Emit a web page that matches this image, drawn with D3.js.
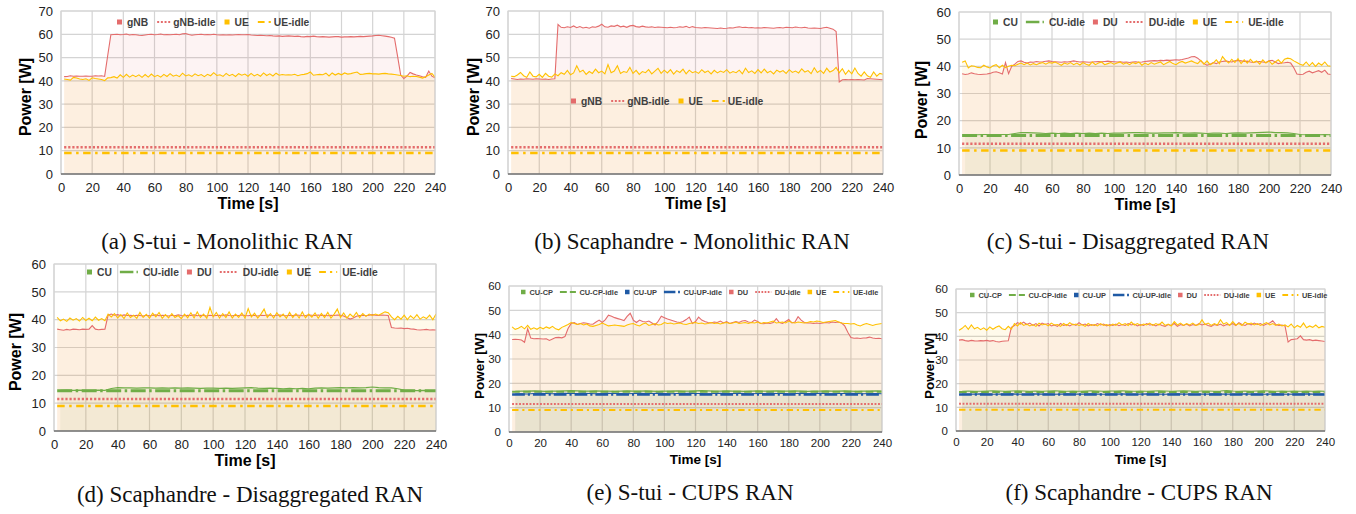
<!DOCTYPE html>
<html>
<head>
<meta charset="utf-8">
<script src="https://cdn.jsdelivr.net/npm/d3@7"></script>
<style>
  body { margin: 0; background: #fff; }
  svg { display: block; }
</style>
</head>
<body>
<svg id="fig" width="1356" height="514"></svg>
<script>
// ---- data (W, sampled every `step` seconds, last sample at 240 s) ----
const xTicks = [0, 20, 40, 60, 80, 100, 120, 140, 160, 180, 200, 220, 240];

// (a) S-tui - Monolithic
const gnbA = [
  41.8,41.9,42.2,42.0,42.1,42.0,42.0,42.1,42.0,42.0,
  42.2,42.1,42.2,41.9,51.0,59.8,59.9,60.0,59.8,59.9,
  60.1,59.7,59.9,59.8,59.6,59.5,59.7,59.9,60.0,59.8,
  59.9,60.1,59.8,59.9,59.8,59.9,60.0,59.8,60.2,60.3,
  59.9,59.6,59.8,59.9,60.0,59.8,59.9,59.8,60.0,59.8,
  59.7,59.8,59.7,59.8,59.7,59.8,59.9,59.8,59.8,59.9,
  59.7,59.6,59.5,59.6,59.5,59.4,59.5,59.3,59.2,59.3,
  59.1,59.2,59.3,59.2,59.1,59.2,59.0,58.9,59.1,59.0,
  59.2,59.0,58.9,59.0,58.9,58.8,58.9,59.0,59.0,58.8,
  58.9,58.9,59.0,58.9,59.0,59.1,59.0,59.1,59.2,59.3,
  59.5,59.6,59.4,59.2,59.0,58.7,58.3,50.5,42.5,41.0,
  42.0,43.6,43.0,42.5,42.2,41.8,41.5,44.2,42.0,41.3];
const ueA = [
  40.8,40.6,40.3,41.5,41.2,40.8,40.6,40.9,40.2,41.3,
  41.0,40.8,40.6,40.1,41.3,41.4,41.8,41.2,42.6,41.5,
  42.8,41.6,42.5,41.8,42.6,41.5,42.7,41.6,42.9,41.8,
  42.4,41.6,42.8,41.9,43.1,42.0,42.5,41.8,43.3,42.1,
  42.6,41.9,43.0,42.2,42.7,41.8,42.8,42.2,43.5,42.3,
  42.6,41.9,43.2,42.2,42.8,41.9,43.1,42.4,42.9,42.0,
  43.2,42.1,42.8,42.0,43.4,42.3,43.0,42.1,43.3,42.4,
  42.7,42.5,42.6,42.5,42.8,42.2,42.6,42.8,43.1,43.8,
  42.4,42.6,42.8,42.6,43.3,42.1,43.4,42.5,43.2,42.6,
  43.4,42.9,43.1,43.5,43.8,42.8,42.9,43.1,43.2,43.0,
  43.0,42.9,43.1,43.2,43.0,42.9,42.7,42.5,42.3,42.0,
  42.2,41.8,42.0,41.9,41.6,41.2,41.8,42.5,43.2,41.6];

// (b) Scaphandre - Monolithic
const gnbB = [
  41.0,40.8,40.6,40.8,40.7,40.9,40.8,40.7,40.9,40.8,
  40.7,40.8,40.6,40.8,40.9,64.2,63.0,62.8,63.2,62.9,
  63.6,62.8,63.3,62.7,63.0,62.6,63.2,63.0,63.5,64.3,
  63.2,63.0,63.6,63.4,63.9,63.2,63.5,63.0,63.6,63.8,
  63.3,63.1,63.5,63.2,63.0,63.2,62.9,63.1,63.0,62.9,
  62.8,63.0,62.8,62.9,63.2,63.0,63.4,62.8,63.3,62.9,
  62.8,62.7,62.9,62.8,62.7,62.6,62.5,62.7,62.5,62.6,
  62.8,62.7,63.0,63.2,62.9,63.0,62.8,62.9,62.7,62.8,
  62.7,62.9,62.8,62.7,62.6,62.8,62.9,62.7,63.0,62.9,
  62.8,63.1,62.9,62.8,63.0,62.7,62.6,62.7,62.6,62.5,
  62.8,63.0,62.6,62.2,61.2,39.5,40.5,40.6,40.5,40.6,
  40.5,40.6,40.5,40.4,41.0,40.9,40.8,40.7,40.6,40.5];
const ueB = [
  42.0,41.8,42.5,43.6,42.2,41.5,43.8,42.0,41.7,42.8,
  41.5,43.2,42.0,41.6,43.0,42.2,43.5,42.8,44.5,42.6,
  43.4,46.5,43.8,44.6,42.8,44.0,43.2,45.0,43.5,44.2,
  43.0,47.0,43.5,44.2,46.5,43.2,44.0,43.6,45.8,43.2,
  44.5,42.8,44.0,43.5,44.8,43.0,44.2,45.4,43.2,44.6,
  43.4,44.8,42.9,44.4,43.6,45.0,43.0,44.6,43.5,44.0,
  43.2,44.8,43.6,44.3,43.0,44.5,43.4,44.2,43.6,44.8,
  43.3,44.0,43.5,44.6,43.0,45.4,43.6,44.3,43.2,44.8,
  43.4,45.0,43.5,44.2,43.0,44.6,43.8,44.4,43.2,44.8,
  43.6,44.2,43.4,45.2,43.8,44.4,43.1,45.6,43.6,44.5,
  43.2,45.4,43.8,44.4,45.8,43.5,45.2,42.8,44.5,43.0,
  45.5,43.2,42.0,43.8,42.2,41.5,43.8,42.0,43.2,42.8];

// (c) S-tui - Disaggregated
const cuC = [
  14.9,14.9,14.8,14.9,14.9,14.8,14.9,14.9,15.3,15.6,
  15.6,15.5,15.4,15.3,15.4,15.3,15.4,15.3,15.4,15.3,
  15.4,15.3,15.4,15.3,15.4,15.4,15.5,15.6,15.6,15.5,
  15.4,15.4,15.5,15.5,15.6,15.5,15.4,15.5,15.4,15.3,
  15.4,15.4,15.3,15.4,15.5,15.4,15.5,15.6,15.7,15.8,
  15.6,15.6,15.5,15.3,14.9,14.8,14.9,14.8,14.9,14.8];
const duC = [
  37.3,37.0,37.2,37.6,37.3,37.1,37.0,37.1,37.2,37.4,
  37.8,38.0,37.6,37.2,41.4,37.3,40.0,40.8,41.8,42.0,
  41.5,41.2,41.6,41.5,41.8,41.6,41.7,41.9,42.0,41.8,
  41.7,41.6,41.5,41.7,41.6,41.8,42.0,41.8,41.6,41.7,
  41.6,41.5,41.6,41.7,41.8,41.7,41.8,41.9,41.8,41.7,
  41.6,41.7,41.5,41.6,41.4,41.6,41.7,41.5,41.6,41.8,
  41.9,42.0,42.1,42.0,42.2,42.1,42.3,42.2,42.3,42.4,
  42.3,42.5,42.8,43.1,43.5,43.6,43.0,42.0,41.0,40.4,
  40.8,41.4,41.0,41.6,41.8,42.0,41.8,41.6,42.0,42.2,
  42.0,41.8,41.9,41.6,41.4,41.7,41.8,41.6,41.4,42.0,
  42.2,41.6,41.0,41.2,41.3,41.5,41.2,39.5,37.2,37.0,
  37.1,37.8,38.2,37.6,38.0,38.4,37.8,38.6,37.2,37.0];
const ueC = [
  41.5,42.0,39.4,40.2,40.0,39.6,39.5,40.4,39.8,39.4,
  40.2,40.6,39.5,40.4,39.5,40.0,40.4,40.2,40.8,41.2,
  40.6,41.2,40.5,41.0,40.6,41.1,41.4,40.8,41.4,41.2,
  41.6,41.0,40.4,41.2,40.8,41.4,40.6,41.2,40.5,41.4,
  40.8,40.4,41.6,40.6,41.2,41.6,40.6,41.0,41.4,40.8,
  41.2,41.6,40.8,41.3,40.6,41.4,41.0,41.6,40.4,41.2,
  40.6,41.4,40.8,41.2,41.6,40.6,41.2,41.8,41.0,40.6,
  41.4,41.8,41.2,41.6,42.0,41.4,41.0,42.2,40.8,42.0,
  40.6,41.2,42.4,41.0,43.6,42.2,41.2,42.6,41.4,42.8,
  41.0,42.4,41.2,42.6,41.4,42.0,40.8,42.4,41.2,42.0,
  40.8,41.6,42.4,41.2,42.6,43.0,42.8,42.0,41.4,40.8,
  40.4,41.6,40.2,41.4,40.0,41.2,40.4,41.6,40.2,40.0];

// (d) Scaphandre - Disaggregated
const cuD = [
  14.6,14.7,14.6,14.7,14.6,14.6,14.7,14.6,15.3,15.6,
  15.5,15.5,15.4,15.5,15.5,15.4,15.5,15.4,15.5,15.4,
  15.5,15.4,15.3,15.4,15.4,15.3,15.4,15.3,15.4,15.5,
  15.6,15.4,15.3,15.4,15.3,15.2,15.3,15.2,15.3,15.2,
  15.4,15.5,15.4,15.5,15.6,15.5,15.6,15.5,15.6,15.8,
  15.6,15.5,15.5,15.2,14.7,14.6,14.5,14.6,14.5,14.5];
const duD = [
  36.6,36.4,36.2,36.5,36.3,36.6,36.5,36.4,36.6,36.5,
  36.6,37.9,36.6,36.4,36.5,36.6,41.6,42.0,41.6,41.8,
  41.4,41.7,41.5,41.6,41.4,41.6,41.5,41.3,41.6,41.4,
  41.5,41.7,41.4,41.6,41.5,41.3,41.6,41.4,41.7,41.5,
  41.4,41.6,41.5,41.7,41.4,41.6,41.5,41.3,41.6,41.4,
  41.5,41.6,41.4,41.7,41.5,41.4,41.6,41.5,41.7,41.5,
  41.4,41.6,41.5,41.3,41.6,41.5,41.7,41.5,41.4,41.6,
  41.7,41.5,41.4,41.6,41.5,41.7,41.6,41.4,41.5,41.7,
  41.6,41.5,41.7,41.5,41.6,41.4,41.6,41.5,41.7,41.6,
  41.3,40.8,40.2,40.6,41.2,41.5,41.6,41.4,41.6,41.8,
  41.6,41.5,41.7,41.6,41.5,37.2,37.0,36.9,37.0,36.8,
  36.9,36.7,36.6,36.4,36.3,36.4,36.5,36.3,36.4,36.3];
const ueD = [
  40.8,39.6,40.2,39.4,40.6,39.8,40.4,39.5,40.8,39.7,
  40.5,39.6,40.9,39.8,40.4,39.6,42.0,41.0,42.2,40.6,
  41.8,40.4,42.4,40.8,41.6,40.5,42.6,40.8,41.9,40.6,
  42.3,41.0,42.6,40.5,41.8,40.6,42.2,40.8,41.5,40.4,
  42.0,40.7,42.5,40.6,42.8,40.8,42.0,40.5,44.4,41.0,
  42.6,40.6,42.2,40.8,42.8,40.6,42.0,40.8,42.4,40.6,
  44.0,41.0,42.3,40.6,42.0,43.8,40.8,42.2,40.6,42.5,
  41.0,42.0,40.5,42.6,40.8,42.2,40.6,42.8,40.7,42.0,
  40.9,42.4,40.5,42.2,40.8,42.6,40.6,42.0,43.8,40.8,
  42.4,40.6,42.0,41.0,42.6,40.8,42.2,41.2,42.0,41.5,
  42.0,41.6,42.2,42.8,42.5,41.0,40.0,41.2,40.2,41.6,
  40.0,41.4,40.4,41.8,40.2,41.0,40.4,41.6,40.0,42.0];

// (e) S-tui - CUPS
const cuCpE = [
  16.7,16.8,16.8,16.9,16.8,16.7,16.8,16.8,16.9,17.0,
  16.9,16.8,16.8,16.9,16.8,16.8,16.7,16.8,16.9,16.8,
  16.8,16.9,16.8,16.7,16.8,16.8,16.9,16.8,16.8,16.9,
  17.0,16.9,16.8,16.8,16.9,16.8,16.8,16.7,16.8,16.9,
  16.8,16.8,16.9,16.8,16.8,16.9,16.8,16.7,16.8,16.8,
  16.9,16.8,16.8,16.9,16.8,16.7,16.8,16.8,16.9,16.8];
const cuUpE = [
  15.6,15.7,15.6,15.8,15.9,15.8,15.7,15.8,15.9,15.8,
  15.8,15.9,15.8,15.7,15.8,15.9,15.8,15.8,15.7,15.8,
  15.9,15.8,15.8,15.9,15.8,15.7,15.8,15.8,15.9,15.8,
  15.8,15.7,15.8,15.9,15.8,15.8,15.9,15.8,15.7,15.8,
  15.8,15.9,15.8,15.8,15.7,15.8,15.9,15.8,15.8,15.9,
  15.8,15.7,15.8,15.8,15.9,15.8,15.7,15.8,15.8,15.7];
const duE = [
  38.0,38.1,38.0,37.8,36.9,42.4,38.6,38.3,38.4,38.3,
  38.2,38.3,37.6,38.2,38.8,38.9,38.7,39.2,42.5,44.6,
  45.0,44.2,44.6,44.9,44.7,44.4,44.3,45.2,46.0,45.0,
  46.2,48.0,47.6,47.0,46.6,46.2,45.8,47.5,48.8,46.0,
  45.0,46.0,45.4,45.2,45.6,44.8,44.0,45.5,47.6,47.0,
  46.4,46.0,45.6,45.2,45.0,45.4,46.2,47.2,44.6,45.4,
  47.2,46.0,45.4,45.0,44.8,45.2,45.0,45.6,44.8,45.4,
  44.6,45.0,45.4,45.0,45.6,45.8,45.2,45.0,46.0,45.4,
  44.6,44.5,44.8,44.6,45.0,46.6,45.0,44.6,45.4,46.2,
  44.8,45.2,47.4,46.0,45.0,44.8,44.8,44.6,44.8,44.6,
  44.8,45.0,44.8,45.2,45.0,45.2,44.8,43.6,41.0,38.8,
  38.5,38.6,38.4,38.6,38.7,39.0,38.6,38.4,38.5,38.3];
const ueE = [
  43.2,42.2,42.6,43.4,42.4,43.8,42.2,42.8,42.2,43.0,
  42.4,43.2,42.6,43.4,42.4,42.0,43.0,43.6,44.2,45.0,
  44.6,44.2,44.6,44.0,44.4,43.6,43.4,43.8,44.2,44.8,
  44.2,43.6,43.8,44.0,43.8,43.6,43.4,44.0,44.4,44.6,
  44.0,43.6,44.4,44.8,43.8,44.2,44.6,44.0,44.2,45.0,
  44.6,44.8,44.4,44.6,44.8,44.4,44.2,44.6,44.8,45.0,
  44.6,44.8,44.4,44.6,45.0,44.6,44.8,44.4,44.8,45.0,
  44.6,44.8,45.2,44.6,44.8,45.0,44.6,45.0,44.8,45.2,
  44.6,45.0,44.8,45.2,45.6,44.8,45.0,45.2,44.8,45.6,
  45.0,44.8,45.2,45.0,44.8,45.0,45.4,45.2,45.6,45.4,
  45.0,45.2,45.4,45.6,45.8,45.2,44.8,44.6,44.6,44.4,
  44.6,44.0,43.6,44.2,44.6,44.2,43.8,44.2,44.4,44.6];

// (f) Scaphandre - CUPS
const cuCpF = [
  16.8,16.9,16.8,16.8,16.9,17.0,16.9,16.8,16.9,17.0,
  16.9,16.8,16.9,16.8,16.9,17.0,16.9,16.8,16.9,16.8,
  16.9,17.0,16.9,16.8,16.9,16.9,17.0,16.9,16.8,16.9,
  16.8,16.9,17.0,16.9,16.8,16.9,17.0,16.9,16.8,16.9,
  16.9,16.8,16.9,17.1,16.9,16.8,16.9,16.8,16.9,17.0,
  16.9,16.8,16.9,16.8,16.9,16.8,16.9,16.8,16.9,16.8];
const cuUpF = [
  15.6,15.5,15.6,15.7,15.6,15.5,15.6,15.6,15.7,15.6,
  15.5,15.6,15.7,15.6,15.6,15.5,15.6,15.7,15.6,15.6,
  15.6,15.7,15.6,15.5,15.6,15.6,15.7,15.6,15.5,15.6,
  15.7,15.6,15.6,15.5,15.6,15.7,15.6,15.6,15.5,15.6,
  15.6,15.7,15.6,15.6,15.5,15.6,15.7,15.6,15.6,15.5,
  15.6,15.7,15.6,15.5,15.6,15.6,15.7,15.6,15.6,15.5];
const duF = [
  38.4,38.6,38.2,38.0,38.3,38.1,38.0,38.2,38.1,38.3,
  38.0,38.2,37.8,37.6,37.9,38.0,38.1,43.8,44.6,45.8,
  45.2,46.0,45.0,45.6,44.6,45.4,44.4,45.6,45.0,45.4,
  44.4,44.8,44.2,45.4,44.6,45.0,44.4,45.2,44.6,45.8,
  44.8,45.2,44.4,45.0,44.6,45.4,44.8,45.2,44.4,45.0,
  44.6,45.2,44.5,45.0,44.6,45.4,44.8,45.2,44.4,45.0,
  44.6,45.4,44.8,45.0,44.4,45.2,44.6,44.2,45.0,44.6,
  45.4,44.2,45.0,44.6,45.2,44.4,45.0,44.6,45.4,44.8,
  45.2,44.6,44.2,45.0,44.6,45.2,44.4,45.0,44.8,45.4,
  44.6,45.8,45.0,44.6,45.4,44.8,45.6,45.0,45.4,44.6,
  45.2,45.6,46.6,45.0,44.6,44.8,44.4,37.6,38.6,38.8,
  39.0,40.2,38.6,38.4,38.6,38.2,38.4,38.2,38.0,37.8];
const ueF = [
  42.6,43.4,44.6,43.0,44.8,43.2,43.8,42.8,43.6,42.6,
  44.0,43.0,43.8,44.4,43.2,42.8,44.2,43.0,45.4,44.4,
  45.8,44.6,45.2,44.4,45.0,44.2,45.6,44.8,45.2,44.4,
  45.6,44.8,45.0,44.2,45.4,44.6,45.8,44.8,45.2,44.6,
  45.0,44.2,45.4,44.6,45.0,44.4,45.4,44.6,45.0,44.4,
  45.2,44.6,45.8,44.8,45.4,44.6,46.0,44.8,45.4,44.6,
  45.2,44.8,45.6,44.6,45.4,44.8,46.0,44.6,45.2,44.4,
  46.2,44.8,45.6,44.6,45.4,44.8,45.6,44.6,45.0,47.0,
  45.0,45.6,44.6,45.4,44.8,47.0,45.2,45.8,44.6,46.2,
  44.8,45.4,44.6,46.0,45.2,45.6,44.8,45.4,44.6,45.2,
  45.8,44.8,45.4,44.6,45.2,44.4,44.8,44.0,45.2,43.6,
  44.6,43.8,45.6,43.6,44.4,43.8,44.8,43.6,44.2,43.8];

// idle reference levels (W)
const idleGnb = 11.5, idleDu = 11.5, idleUe = 9.0, idleCu = 14.5, idleCuCp = 16.5, idleCuUp = 15.4;

// ---- styles ----
const RED = '#e46c6c', YEL = '#ffc000', GRN = '#70ad47', BLU = '#1f5aa5';
const DASH = {
  dot: { d: '2.2,1.9', w: 2.4 },
  dashdot: { d: '7.5,4.5,2.5,4.5', w: 2.4 },
  longdashdot: { d: '15,3.5,2.5,3.5', w: 3 },
  dash: { d: '9,4', w: 2.4 }
};

const area = (label, values, step, color) => ({ type: 'area', label, values, step, color });
const idle = (label, value, color, dash) => ({ type: 'idle', label, value, color, dash });

const panels = [
  { caption: '(a) S-tui - Monolithic RAN', left: 61, top: 11, right: 435, bottom: 174, yMax: 70,
    tickFont: 13, tickPad: 9, titleFont: 16, yTitleX: 25, yTitleY: 97, xTitleY: 203,
    capX: 227, capY: 241, lw: 1,
    legend: { x: 117, y: 22, font: 10.3, sq: 5, sqGap: 5, len: 13, lineGap: 3, gap: 9 },
    items: [area('gNB', gnbA, 2, RED), idle('gNB-idle', idleGnb, RED, 'dot'),
            area('UE', ueA, 2, YEL), idle('UE-idle', idleUe, YEL, 'dashdot')] },
  { caption: '(b) Scaphandre - Monolithic RAN', left: 508, top: 11, right: 883, bottom: 174, yMax: 70,
    tickFont: 13, tickPad: 9, titleFont: 16, yTitleX: 473, yTitleY: 97, xTitleY: 203,
    capX: 692, capY: 241, lw: 1,
    legend: { x: 571, y: 101, font: 10.3, sq: 5, sqGap: 5, len: 13, lineGap: 3, gap: 9 },
    items: [area('gNB', gnbB, 2, RED), idle('gNB-idle', idleGnb, RED, 'dot'),
            area('UE', ueB, 2, YEL), idle('UE-idle', idleUe, YEL, 'dashdot')] },
  { caption: '(c) S-tui - Disaggregated RAN', left: 959, top: 12, right: 1331, bottom: 175, yMax: 60,
    tickFont: 13, tickPad: 9, titleFont: 16, yTitleX: 921, yTitleY: 100, xTitleY: 204,
    capX: 1128, capY: 241, lw: 1,
    legend: { x: 993, y: 22, font: 10.3, sq: 5, sqGap: 5, len: 18, lineGap: 5, gap: 8 },
    items: [area('CU', cuC, 4, GRN), idle('CU-idle', idleCu, GRN, 'longdashdot'),
            area('DU', duC, 2, RED), idle('DU-idle', idleDu, RED, 'dot'),
            area('UE', ueC, 2, YEL), idle('UE-idle', idleUe, YEL, 'dashdot')] },
  { caption: '(d) Scaphandre - Disaggregated RAN', left: 54, top: 264, right: 436, bottom: 431, yMax: 60,
    tickFont: 13, tickPad: 9, titleFont: 16, yTitleX: 15, yTitleY: 352, xTitleY: 460,
    capX: 250, capY: 494, lw: 1,
    legend: { x: 87, y: 272, font: 10.3, sq: 5, sqGap: 5, len: 18, lineGap: 5, gap: 8 },
    items: [area('CU', cuD, 4, GRN), idle('CU-idle', idleCu, GRN, 'longdashdot'),
            area('DU', duD, 2, RED), idle('DU-idle', idleDu, RED, 'dot'),
            area('UE', ueD, 2, YEL), idle('UE-idle', idleUe, YEL, 'dashdot')] },
  { caption: '(e) S-tui - CUPS RAN', left: 509, top: 286, right: 882, bottom: 432, yMax: 60,
    tickFont: 11.5, tickPad: 7, titleFont: 13.5, yTitleX: 479, yTitleY: 366, xTitleY: 459,
    capX: 690, capY: 492, lw: 0.85,
    legend: { x: 521, y: 292, font: 7.4, sq: 4.5, sqGap: 4, len: 16, lineGap: 3.5, gap: 7 },
    items: [area('CU-CP', cuCpE, 4, GRN), idle('CU-CP-idle', idleCuCp, GRN, 'dash'),
            area('CU-UP', cuUpE, 4, BLU), idle('CU-UP-idle', idleCuUp, BLU, 'longdashdot'),
            area('DU', duE, 2, RED), idle('DU-idle', idleDu, RED, 'dot'),
            area('UE', ueE, 2, YEL), idle('UE-idle', idleUe, YEL, 'dashdot')] },
  { caption: '(f) Scaphandre - CUPS RAN', left: 956, top: 289, right: 1325, bottom: 431, yMax: 60,
    tickFont: 11.5, tickPad: 7, titleFont: 13.5, yTitleX: 929, yTitleY: 366, xTitleY: 459,
    capX: 1139, capY: 492, lw: 0.85,
    legend: { x: 970, y: 295, font: 7.4, sq: 4.5, sqGap: 4, len: 16, lineGap: 3.5, gap: 7 },
    items: [area('CU-CP', cuCpF, 4, GRN), idle('CU-CP-idle', idleCuCp, GRN, 'dash'),
            area('CU-UP', cuUpF, 4, BLU), idle('CU-UP-idle', idleCuUp, BLU, 'longdashdot'),
            area('DU', duF, 2, RED), idle('DU-idle', idleDu, RED, 'dot'),
            area('UE', ueF, 2, YEL), idle('UE-idle', idleUe, YEL, 'dashdot')] }
];

const svg = d3.select('#fig');

// samples end at 240 s
function points(it) {
  const n = it.values.length;
  return it.values.map((v, i) => [240 - (n - 1 - i) * it.step, v]);
}

function dashStyle(sel, it, k) {
  const s = DASH[it.dash];
  sel.attr('stroke', it.color)
    .attr('stroke-width', s.w * k)
    .attr('stroke-dasharray', s.d.split(',').map(d => +d * k).join(','));
}

panels.forEach((p, pi) => {
  const x = d3.scaleLinear().domain([0, 240]).range([p.left, p.right]);
  const y = d3.scaleLinear().domain([0, p.yMax]).range([p.bottom, p.top]);
  const yTicks = d3.range(0, p.yMax + 1, 10);
  const g = svg.append('g');

  const clipId = 'clip' + pi;
  g.append('clipPath').attr('id', clipId).append('rect')
    .attr('x', p.left).attr('y', p.top)
    .attr('width', p.right - p.left).attr('height', p.bottom - p.top);

  // grid
  g.append('g').selectAll('line').data(yTicks.slice(1)).join('line')
    .attr('x1', p.left).attr('x2', p.right)
    .attr('y1', d => y(d)).attr('y2', d => y(d))
    .attr('stroke', '#d4d4d4').attr('stroke-width', 1.2);
  g.append('g').selectAll('line').data(xTicks).join('line')
    .attr('x1', d => x(d)).attr('x2', d => x(d))
    .attr('y1', p.top).attr('y2', p.bottom)
    .attr('stroke', '#d4d4d4').attr('stroke-width', 1.2);

  const plot = g.append('g').attr('clip-path', `url(#${clipId})`);
  const areaGen = d3.area().x(d => x(d[0])).y0(y(0)).y1(d => y(d[1]));
  const lineGen = d3.line().x(d => x(d[0])).y(d => y(d[1]));

  // translucent fills first
  p.items.filter(it => it.type === 'area').forEach(it => {
    plot.append('path').datum(points(it)).attr('d', areaGen)
      .attr('fill', it.color).attr('fill-opacity', it.color === BLU ? 0.05 : 0.08);
  });

  // lines in legend order
  p.items.forEach(it => {
    if (it.type === 'area') {
      plot.append('path').datum(points(it)).attr('d', lineGen)
        .attr('fill', 'none').attr('stroke', it.color).attr('stroke-width', 1.1);
    } else {
      plot.append('line')
        .attr('x1', x(2)).attr('x2', x(240))
        .attr('y1', y(it.value)).attr('y2', y(it.value))
        .call(dashStyle, it, p.lw);
    }
  });

  // frame and x axis line
  g.append('rect').attr('x', p.left).attr('y', p.top)
    .attr('width', p.right - p.left).attr('height', p.bottom - p.top)
    .attr('fill', 'none').attr('stroke', '#d4d4d4');
  g.append('line').attr('x1', p.left).attr('x2', p.right)
    .attr('y1', p.bottom).attr('y2', p.bottom)
    .attr('stroke', '#707070').attr('stroke-width', 1.3);

  // axes
  const font = '"Liberation Sans", Arial, sans-serif';
  const ax = g.append('g').attr('transform', `translate(0,${p.bottom})`)
    .call(d3.axisBottom(x).tickValues(xTicks).tickSize(0).tickPadding(p.tickPad));
  const ay = g.append('g').attr('transform', `translate(${p.left},0)`)
    .call(d3.axisLeft(y).tickValues(yTicks).tickSize(0).tickPadding(8));
  [ax, ay].forEach(a => {
    a.select('.domain').remove();
    a.selectAll('text').attr('font-family', font).attr('font-size', p.tickFont).attr('fill', '#222');
  });

  g.append('text').attr('transform', `translate(${p.yTitleX},${p.yTitleY}) rotate(-90)`)
    .attr('text-anchor', 'middle').attr('dy', '0.35em')
    .attr('font-family', font).attr('font-weight', 'bold').attr('font-size', p.titleFont)
    .text('Power [W]');
  g.append('text').attr('x', (p.left + p.right) / 2).attr('y', p.xTitleY)
    .attr('text-anchor', 'middle').attr('dy', '0.35em')
    .attr('font-family', font).attr('font-weight', 'bold').attr('font-size', p.titleFont)
    .text('Time [s]');

  // legend
  const L = p.legend;
  const leg = g.append('g').attr('font-family', font).attr('font-weight', 'bold')
    .attr('font-size', L.font).attr('fill', '#404040');
  let lx = L.x;
  p.items.forEach(it => {
    if (it.type === 'area') {
      leg.append('rect').attr('x', lx).attr('y', L.y - L.sq / 2)
        .attr('width', L.sq).attr('height', L.sq).attr('fill', it.color);
      lx += L.sq + L.sqGap;
    } else {
      leg.append('line').attr('x1', lx).attr('x2', lx + L.len)
        .attr('y1', L.y).attr('y2', L.y).call(dashStyle, it, p.lw * 0.9);
      lx += L.len + L.lineGap;
    }
    const t = leg.append('text').attr('x', lx).attr('y', L.y).attr('dy', '0.35em').text(it.label);
    lx += t.node().getComputedTextLength() + L.gap;
  });

  // caption
  svg.append('text').attr('x', p.capX).attr('y', p.capY)
    .attr('text-anchor', 'middle').attr('dy', '0.35em')
    .attr('font-family', '"Liberation Serif", "Times New Roman", serif')
    .attr('font-size', 23).attr('fill', '#111')
    .text(p.caption);
});
</script>
</body>
</html>
